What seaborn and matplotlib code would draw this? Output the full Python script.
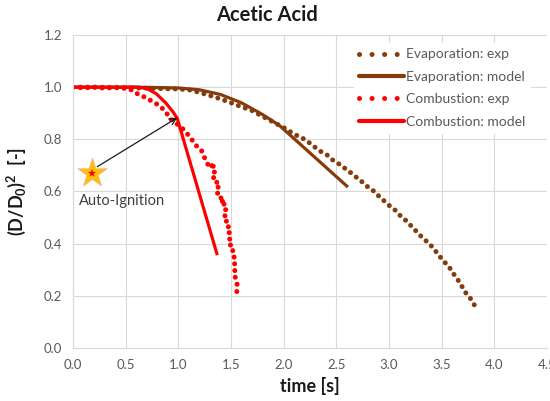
import matplotlib
matplotlib.use("Agg")
import matplotlib.pyplot as plt
from matplotlib.lines import Line2D
import seaborn as sns
import pandas as pd

# ---------------- data ----------------
evap_exp_t = [0.00, 0.20, 0.40, 0.60, 0.80, 1.00, 1.10, 1.20, 1.30, 1.40, 1.50, 1.60, 1.70,
              1.80, 1.93, 2.04, 2.09, 2.14, 2.19, 2.25, 2.29, 2.35, 2.42, 2.47, 2.54, 2.60,
              2.65, 2.70, 2.76, 2.81, 2.87, 2.91, 2.96, 3.00, 3.06, 3.11, 3.16, 3.22, 3.26,
              3.31, 3.37, 3.42, 3.46, 3.51, 3.57, 3.61, 3.65, 3.69, 3.73, 3.77, 3.815]
evap_exp_d = [1.000, 1.000, 0.998, 0.997, 0.995, 0.993, 0.990, 0.980, 0.968, 0.955, 0.940, 0.925, 0.910,
              0.888, 0.860, 0.836, 0.821, 0.812, 0.802, 0.785, 0.772, 0.754, 0.738, 0.719, 0.702, 0.683,
              0.668, 0.651, 0.632, 0.613, 0.598, 0.579, 0.562, 0.547, 0.528, 0.506, 0.489, 0.464, 0.447,
              0.426, 0.404, 0.384, 0.362, 0.337, 0.311, 0.286, 0.264, 0.238, 0.211, 0.192, 0.162]

evap_model_t = [0.00, 0.60, 1.00, 1.20, 1.40, 1.60, 1.80, 1.96, 2.61]
evap_model_d = [1.000, 1.000, 0.997, 0.990, 0.972, 0.940, 0.895, 0.853, 0.617]

comb_exp_t = [0.00, 0.10, 0.20, 0.30, 0.40, 0.50, 0.55, 0.61, 0.69, 0.79, 0.85, 0.89, 0.94, 1.00,
              1.06, 1.12, 1.17, 1.22, 1.26, 1.30, 1.34, 1.32, 1.36, 1.33, 1.37, 1.35, 1.39, 1.37,
              1.41, 1.39, 1.45, 1.42, 1.45, 1.43, 1.47, 1.45, 1.48, 1.46, 1.49, 1.48, 1.51, 1.49,
              1.52, 1.51, 1.53, 1.52, 1.54, 1.53, 1.55, 1.54, 1.55, 1.56, 1.555]
comb_exp_d = [1.000, 0.997, 1.000, 0.996, 0.999, 0.995, 0.990, 0.975, 0.960, 0.937, 0.918, 0.899, 0.872, 0.855,
              0.834, 0.803, 0.776, 0.757, 0.719, 0.690, 0.710, 0.680, 0.670, 0.650, 0.640, 0.620, 0.615, 0.590,
              0.580, 0.560, 0.565, 0.540, 0.530, 0.510, 0.500, 0.480, 0.470, 0.450, 0.440, 0.420, 0.410, 0.390,
              0.380, 0.360, 0.350, 0.330, 0.320, 0.300, 0.290, 0.270, 0.260, 0.240, 0.215]

comb_model_t = [0.00, 0.60, 0.70, 0.79, 0.88, 0.95, 0.99, 1.37]
comb_model_d = [1.000, 1.000, 0.995, 0.975, 0.940, 0.905, 0.880, 0.356]

ignition_t = [0.18]
ignition_d = [0.67]

x_ticks = [0.0, 0.5, 1.0, 1.5, 2.0, 2.5, 3.0, 3.5, 4.0, 4.5]
y_ticks = [0.0, 0.2, 0.4, 0.6, 0.8, 1.0, 1.2]

labels = ["Evaporation: exp", "Evaporation: model", "Combustion: exp", "Combustion: model"]

# ---------------- style ----------------
sns.set_theme(style="white")
plt.rcParams["font.family"] = ["Lato", "DejaVu Sans"]

BROWN = "#843C0C"
RED = "#FF0000"
GRID = "#D9D9D9"
TXT = "#595959"

fig = plt.figure(figsize=(5.5, 4.01), dpi=100)
ax = fig.add_axes([73 / 550, 53 / 401, (547 - 73) / 550, (348 - 35) / 401])

dot_style = (0, (0.01, 1.45))

series = [
    (evap_exp_t, evap_exp_d, BROWN, True),
    (evap_model_t, evap_model_d, BROWN, False),
    (comb_exp_t, comb_exp_d, RED, True),
    (comb_model_t, comb_model_d, RED, False),
]
handles = []
for (t, d, c, dotted), lab in zip(series, labels):
    df = pd.DataFrame({"t": t, "d": d})
    if dotted:
        sns.lineplot(data=df, x="t", y="d", ax=ax, sort=False, estimator=None,
                     color=c, linewidth=3.6, linestyle=dot_style,
                     dash_capstyle="round", legend=False)
        handles.append(Line2D([], [], color=c, linewidth=3.6, linestyle=(0, (0.01, 2.5)),
                              dash_capstyle="round", label=lab))
    else:
        sns.lineplot(data=df, x="t", y="d", ax=ax, sort=False, estimator=None,
                     color=c, linewidth=2.3, solid_capstyle="butt", legend=False)
        handles.append(Line2D([], [], color=c, linewidth=3.0, solid_capstyle="round", label=lab))

# auto-ignition marker
sdf = pd.DataFrame({"t": ignition_t, "d": ignition_d})
sns.scatterplot(data=sdf, x="t", y="d", ax=ax, marker="*", s=480,
                color="#FFC000", edgecolor="#F4B183", linewidth=0.6, zorder=5, legend=False)
sns.scatterplot(data=sdf, x="t", y="d", ax=ax, marker="*", s=40,
                color="#FF0000", edgecolor="none", zorder=6, legend=False)

ax.annotate("", xy=(0.99, 0.883), xytext=(0.23, 0.695),
            arrowprops=dict(arrowstyle="->", color="#1a1a1a", lw=0.9,
                            shrinkA=0, shrinkB=0, mutation_scale=12))
ax.text(0.06, 0.565, "Auto-Ignition", fontsize=10.5, color="#404040",
        ha="left", va="center")

ax.set_xlim(0, 4.5)
ax.set_ylim(0, 1.2)
ax.set_xticks(x_ticks)
ax.set_yticks(y_ticks)
ax.set_xticklabels([f"{v:.1f}" for v in x_ticks])
ax.set_yticklabels([f"{v:.1f}" for v in y_ticks])
ax.tick_params(axis="both", length=0, labelsize=9.5, labelcolor=TXT, pad=8)

ax.grid(True, color=GRID, linewidth=0.8)
ax.set_axisbelow(True)
for s in ["top", "right"]:
    ax.spines[s].set_visible(False)
for s in ["left", "bottom"]:
    ax.spines[s].set_color(GRID)
    ax.spines[s].set_linewidth(0.8)

ax.set_xlabel("time [s]", fontsize=13, fontweight="bold", color="#1a1a1a", labelpad=4)
ax.set_ylabel("(D/D$_\\mathregular{0}$)$^\\mathregular{2}$  [-]", fontsize=13,
              fontweight="bold", color="#1a1a1a", labelpad=11)

fig.text(267 / 550, 1 - 15 / 401, "Acetic Acid", fontsize=14.5, fontweight="bold",
         color="#1a1a1a", ha="center", va="center")

leg = ax.legend(handles=handles, loc="upper right", bbox_to_anchor=(0.965, 0.975), frameon=True,
                fontsize=10, handlelength=3.2, handletextpad=0.15, labelspacing=0.75,
                borderpad=0.4, borderaxespad=0.0)
leg.get_frame().set_facecolor("white")
leg.get_frame().set_edgecolor("white")
leg.get_frame().set_alpha(1.0)
for txt in leg.get_texts():
    txt.set_color(TXT)

fig.savefig("out.png", dpi=100)
